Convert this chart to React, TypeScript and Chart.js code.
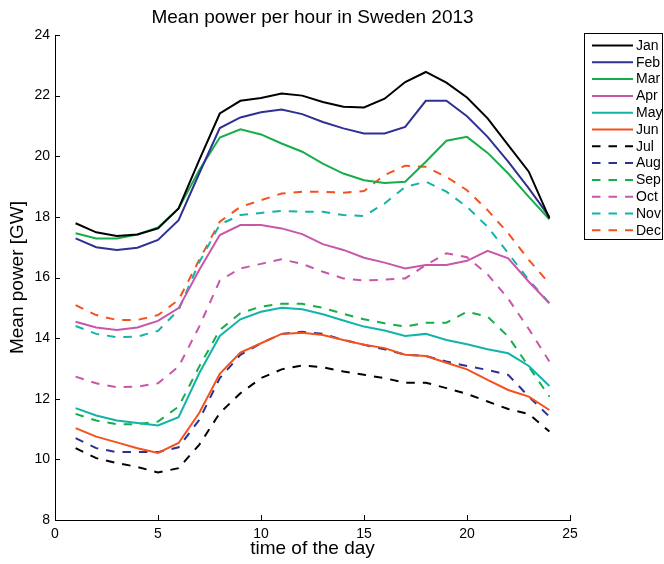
import React, { useEffect, useRef } from "react";
import { Chart, registerables } from "chart.js";

Chart.register(...registerables);

const hours = [1, 2, 3, 4, 5, 6, 7, 8, 9, 10, 11, 12, 13, 14, 15, 16, 17, 18, 19, 20, 21, 22, 23, 24];
const monthLabels = ["Jan", "Feb", "Mar", "Apr", "May", "Jun", "Jul", "Aug", "Sep", "Oct", "Nov", "Dec"];

const jan = [17.79, 17.49, 17.37, 17.42, 17.62, 18.28, 19.87, 21.41, 21.83, 21.92, 22.07, 22.0, 21.79, 21.63, 21.61, 21.9, 22.45, 22.78, 22.43, 21.94, 21.25, 20.37, 19.49, 17.95];
const feb = [17.29, 17.0, 16.91, 16.98, 17.24, 17.89, 19.43, 20.93, 21.28, 21.45, 21.54, 21.39, 21.13, 20.92, 20.75, 20.75, 20.97, 21.83, 21.83, 21.32, 20.64, 19.82, 18.94, 18.0];
const mar = [17.46, 17.29, 17.29, 17.42, 17.65, 18.28, 19.54, 20.62, 20.89, 20.72, 20.42, 20.15, 19.76, 19.43, 19.21, 19.12, 19.16, 19.82, 20.51, 20.64, 20.11, 19.43, 18.66, 17.92];
const apr = [14.54, 14.35, 14.27, 14.35, 14.57, 14.99, 16.25, 17.4, 17.73, 17.73, 17.62, 17.43, 17.1, 16.91, 16.65, 16.49, 16.3, 16.41, 16.41, 16.55, 16.88, 16.63, 15.86, 15.15];
const may = [11.69, 11.45, 11.28, 11.2, 11.12, 11.39, 12.84, 14.07, 14.62, 14.87, 15.0, 14.95, 14.79, 14.58, 14.38, 14.25, 14.07, 14.14, 13.94, 13.8, 13.63, 13.5, 13.08, 12.42];
const jun = [11.03, 10.75, 10.56, 10.37, 10.21, 10.54, 11.53, 12.82, 13.52, 13.83, 14.14, 14.18, 14.1, 13.94, 13.78, 13.67, 13.45, 13.41, 13.19, 12.97, 12.62, 12.29, 12.07, 11.63];
const jul = [10.37, 10.04, 9.88, 9.75, 9.57, 9.71, 10.48, 11.53, 12.18, 12.68, 12.97, 13.1, 13.04, 12.9, 12.79, 12.68, 12.53, 12.53, 12.35, 12.16, 11.91, 11.66, 11.5, 10.92];
const aug = [10.7, 10.37, 10.24, 10.24, 10.24, 10.4, 11.3, 12.68, 13.45, 13.83, 14.14, 14.21, 14.14, 13.94, 13.78, 13.63, 13.45, 13.41, 13.23, 13.08, 12.95, 12.79, 12.07, 11.41];
const sep = [11.5, 11.28, 11.16, 11.16, 11.25, 11.74, 13.06, 14.27, 14.82, 15.04, 15.13, 15.13, 15.0, 14.8, 14.62, 14.49, 14.38, 14.51, 14.51, 14.87, 14.71, 14.05, 13.06, 12.07];
const oct = [12.73, 12.51, 12.38, 12.4, 12.51, 13.06, 14.38, 15.9, 16.3, 16.45, 16.6, 16.45, 16.19, 15.97, 15.9, 15.93, 15.97, 16.41, 16.8, 16.67, 16.1, 15.3, 14.3, 13.23];
const nov = [14.4, 14.14, 14.03, 14.05, 14.24, 14.93, 16.5, 17.75, 18.06, 18.13, 18.2, 18.17, 18.17, 18.06, 18.03, 18.44, 18.99, 19.16, 18.83, 18.33, 17.67, 16.8, 15.92, 15.15];
const dec = [15.09, 14.76, 14.6, 14.6, 14.76, 15.26, 16.58, 17.84, 18.33, 18.55, 18.77, 18.83, 18.83, 18.8, 18.85, 19.38, 19.69, 19.65, 19.32, 18.88, 18.22, 17.46, 16.58, 15.8];

const monthValues = [jan, feb, mar, apr, may, jun, jul, aug, sep, oct, nov, dec];
const palette = ["#000000", "#2e3192", "#16ad4a", "#c857aa", "#13b3a8", "#f4511e"];

const xTicks = [0, 5, 10, 15, 20, 25];
const yTicks = [8, 10, 12, 14, 16, 18, 20, 22, 24];

const FONT = "'Liberation Sans', Arial, Helvetica, sans-serif";
const DASH = [8.5, 8];

const inwardTicks = {
  id: "inwardTicks",
  afterDatasetsDraw(chart: any) {
    const { ctx, chartArea, scales } = chart;
    const x = scales.x;
    const y = scales.y;
    ctx.save();
    ctx.strokeStyle = "#000";
    ctx.lineWidth = 1;
    ctx.beginPath();
    x.ticks.forEach((t: any) => {
      const px = Math.round(x.getPixelForValue(t.value)) + 0.5;
      ctx.moveTo(px, chartArea.bottom);
      ctx.lineTo(px, chartArea.bottom - 5);
    });
    y.ticks.forEach((t: any) => {
      const py = Math.round(y.getPixelForValue(t.value)) + 0.5;
      ctx.moveTo(chartArea.left, py);
      ctx.lineTo(chartArea.left + 5, py);
    });
    ctx.stroke();
    ctx.restore();
  },
};

const boxedLegend = {
  id: "boxedLegend",
  afterDraw(chart: any) {
    const { ctx } = chart;
    const bx = 584.5;
    const by = 33.5;
    const bw = 78;
    const bh = 206;
    ctx.save();
    ctx.fillStyle = "#fff";
    ctx.fillRect(bx, by, bw, bh);
    ctx.strokeStyle = "#000";
    ctx.lineWidth = 1;
    ctx.setLineDash([]);
    ctx.strokeRect(bx, by, bw, bh);
    chart.data.datasets.forEach((ds: any, i: number) => {
      const yy = 45.5 + i * 16.8;
      ctx.beginPath();
      ctx.strokeStyle = ds.borderColor;
      ctx.lineWidth = 2;
      ctx.setLineDash(ds.borderDash || []);
      ctx.moveTo(592, yy);
      ctx.lineTo(633, yy);
      ctx.stroke();
      ctx.setLineDash([]);
      ctx.fillStyle = "#000";
      ctx.font = `14px ${FONT}`;
      ctx.textBaseline = "middle";
      ctx.textAlign = "left";
      ctx.fillText(ds.label, 636, yy + 0.5);
    });
    ctx.restore();
  },
};

export default function App() {
  const canvasRef = useRef<HTMLCanvasElement | null>(null);

  useEffect(() => {
    if (!canvasRef.current) return;
    const datasets = monthValues.map((vals, i) => ({
      label: monthLabels[i],
      data: hours.map((h, j) => ({ x: h, y: vals[j] })),
      borderColor: palette[i % 6],
      backgroundColor: palette[i % 6],
      borderWidth: 2,
      borderDash: i >= 6 ? DASH : [],
      pointRadius: 0,
      fill: false,
      tension: 0,
    }));

    const chart = new Chart(canvasRef.current, {
      type: "line",
      data: { datasets },
      options: {
        animation: false,
        responsive: true,
        maintainAspectRatio: false,
        layout: { padding: { left: 0, right: 94, top: 0, bottom: 0 } },
        plugins: {
          legend: { display: false },
          tooltip: { enabled: false },
          title: {
            display: true,
            text: "Mean power per hour in Sweden 2013",
            fullSize: false,
            color: "#000",
            font: { family: FONT, size: 19, weight: "normal" },
            padding: { top: 6, bottom: 6.2 },
          },
        },
        scales: {
          x: {
            type: "linear",
            min: 0,
            max: 25,
            afterFit: (s: any) => {
              s.height = 44;
            },
            afterBuildTicks: (s: any) => {
              s.ticks = xTicks.map((v) => ({ value: v }));
            },
            grid: { display: false, drawTicks: false, tickLength: 0 },
            border: { display: true, color: "#000", width: 1 },
            ticks: { color: "#000", padding: 6, font: { family: FONT, size: 14 }, maxRotation: 0 },
            title: {
              display: true,
              text: "time of the day",
              color: "#000",
              font: { family: FONT, size: 19 },
              padding: { top: 0, bottom: 4 },
            },
          },
          y: {
            type: "linear",
            min: 8,
            max: 24,
            afterFit: (s: any) => {
              s.width = 55;
            },
            afterBuildTicks: (s: any) => {
              s.ticks = yTicks.map((v) => ({ value: v }));
            },
            grid: { display: false, drawTicks: false, tickLength: 0 },
            border: { display: true, color: "#000", width: 1 },
            ticks: { color: "#000", padding: 5, font: { family: FONT, size: 14 } },
            title: {
              display: true,
              text: "Mean power [GW]",
              color: "#000",
              font: { family: FONT, size: 19 },
              padding: { top: 6, bottom: 0 },
            },
          },
        },
      },
      plugins: [inwardTicks, boxedLegend],
    });
    return () => chart.destroy();
  }, []);

  return (
    <div style={{ position: "absolute", left: 0, top: 0, width: 664, height: 564, background: "#fff" }}>
      <canvas ref={canvasRef} />
    </div>
  );
}
